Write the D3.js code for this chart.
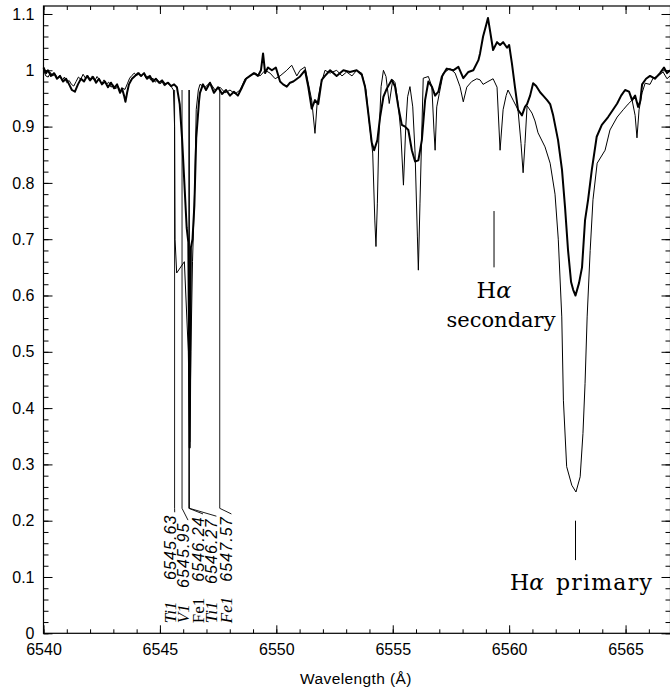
<!DOCTYPE html>
<html>
<head>
<meta charset="utf-8">
<script src="https://cdn.jsdelivr.net/npm/d3@7"></script>
<style>
  body { margin: 0; background: #fff; }
  svg { display: block; }
</style>
</head>
<body>
<svg id="spectrum" width="670" height="690"></svg>
<script>
// thin spectrum (sharp lines)
const thinWave = [
  6540.00, 6540.10, 6540.20, 6540.30, 6540.40, 6540.50, 6540.60, 6540.70, 6540.80, 6540.90,
  6541.00, 6541.10, 6541.20, 6541.30, 6541.40, 6541.50, 6541.60, 6541.70, 6541.80, 6541.90,
  6542.00, 6542.10, 6542.20, 6542.30, 6542.40, 6542.50, 6542.60, 6542.70, 6542.80, 6542.90,
  6543.00, 6543.10, 6543.20, 6543.30, 6543.40, 6543.50, 6543.60, 6543.70, 6543.80, 6543.90,
  6544.00, 6544.10, 6544.20, 6544.30, 6544.40, 6544.50, 6544.60, 6544.70, 6544.80, 6544.90,
  6545.00, 6545.10, 6545.20, 6545.30, 6545.40, 6545.50, 6545.58, 6545.63, 6545.65, 6545.72,
  6546.05, 6546.22, 6546.28, 6546.33, 6546.40, 6546.50, 6546.56, 6546.65, 6546.72,
  6546.94, 6547.15, 6547.37, 6547.58, 6547.80, 6548.01, 6548.23, 6548.44, 6548.66, 6548.87,
  6549.09, 6549.30, 6549.52, 6549.73, 6549.95, 6550.16, 6550.45, 6550.66, 6550.88, 6551.02,
  6551.23, 6551.36, 6551.52, 6551.66, 6551.75, 6551.88, 6552.09, 6552.31, 6552.59, 6552.82,
  6553.02, 6553.25, 6553.45, 6553.67, 6553.85, 6553.98, 6554.14, 6554.23, 6554.28, 6554.34,
  6554.40, 6554.50, 6554.60, 6554.71, 6554.85, 6555.00, 6555.10, 6555.23, 6555.34, 6555.46,
  6555.56, 6555.64, 6555.74, 6555.86, 6555.96, 6556.06, 6556.10, 6556.17, 6556.25, 6556.31,
  6556.53, 6556.68, 6556.77, 6556.82, 6556.89, 6557.00, 6557.17, 6557.46, 6557.68, 6557.89,
  6558.03, 6558.18, 6558.39, 6558.61, 6558.75, 6558.88, 6559.09, 6559.31, 6559.48, 6559.61,
  6559.74, 6559.87, 6559.95, 6560.17, 6560.38, 6560.51, 6560.60, 6560.68, 6560.77, 6560.98,
  6561.11, 6561.24, 6561.54, 6561.76, 6561.97, 6562.11, 6562.26, 6562.33, 6562.47, 6562.69,
  6562.87, 6563.05, 6563.17, 6563.26, 6563.35, 6563.48, 6563.60, 6563.78, 6564.12, 6564.33,
  6564.64, 6564.90, 6565.11, 6565.28, 6565.41, 6565.49, 6565.58, 6565.71, 6565.84, 6566.05,
  6566.18, 6566.40, 6566.61, 6566.78, 6566.91
];
const thinFlux = [
  1.000, 0.990, 0.988, 0.996, 0.990, 0.994, 0.986, 0.991, 0.982, 0.988,
  0.978, 0.982, 0.975, 0.972, 0.980, 0.988, 0.984, 0.993, 0.986, 0.991,
  0.984, 0.990, 0.981, 0.989, 0.983, 0.976, 0.983, 0.975, 0.979, 0.970,
  0.974, 0.967, 0.972, 0.963, 0.968, 0.966, 0.976, 0.986, 0.991, 0.995,
  0.990, 0.996, 0.990, 0.994, 0.986, 0.990, 0.983, 0.986, 0.979, 0.983,
  0.976, 0.979, 0.972, 0.977, 0.975, 0.970, 0.965, 0.900, 0.700, 0.640,
  0.660, 0.500, 0.340, 0.500, 0.660, 0.800, 0.930, 0.965, 0.975,
  0.970, 0.978, 0.965, 0.970, 0.960, 0.965, 0.958, 0.965, 0.985, 0.990,
  0.995, 0.990, 1.000, 0.995, 0.985, 0.990, 1.000, 1.009, 0.990, 1.000,
  1.006, 0.980, 0.947, 0.888, 0.940, 0.970, 1.000, 0.995, 1.000, 0.990,
  0.997, 0.990, 1.000, 0.995, 0.965, 0.912, 0.853, 0.734, 0.687, 0.764,
  0.876, 0.971, 1.000, 0.989, 0.941, 0.983, 0.978, 0.941, 0.894, 0.796,
  0.900, 0.953, 0.971, 0.935, 0.853, 0.704, 0.645, 0.764, 0.894, 0.986,
  0.989, 0.971, 0.894, 0.858, 0.935, 0.959, 0.995, 1.003, 0.995, 0.971,
  0.944, 0.970, 0.980, 0.985, 0.983, 0.975, 0.980, 0.985, 0.970, 0.858,
  0.930, 0.955, 0.965, 0.947, 0.930, 0.870, 0.818, 0.870, 0.937, 0.924,
  0.910, 0.889, 0.864, 0.835, 0.780, 0.700, 0.562, 0.414, 0.296, 0.263,
  0.251, 0.278, 0.355, 0.444, 0.562, 0.680, 0.770, 0.835, 0.858, 0.894,
  0.917, 0.930, 0.940, 0.947, 0.920, 0.880, 0.930, 0.960, 0.977, 0.975,
  0.986, 0.990, 0.997, 0.985, 0.990
];

// thick spectrum (broad lines)
const thickWave = [
  6540.00, 6540.11, 6540.19, 6540.32, 6540.45, 6540.58, 6540.71, 6540.84, 6540.97, 6541.10,
  6541.22, 6541.35, 6541.48, 6541.61, 6541.74, 6541.87, 6542.00, 6542.13, 6542.26, 6542.38,
  6542.51, 6542.64, 6542.77, 6542.90, 6543.03, 6543.16, 6543.29, 6543.37, 6543.46, 6543.52,
  6543.59, 6543.67, 6543.80, 6543.93, 6544.06, 6544.19, 6544.32, 6544.45, 6544.57, 6544.70,
  6544.83, 6544.96, 6545.09, 6545.22, 6545.35, 6545.48, 6545.61, 6545.73, 6545.85, 6545.95,
  6546.05, 6546.15, 6546.22, 6546.28, 6546.33, 6546.40, 6546.48, 6546.56, 6546.68, 6546.72,
  6546.85, 6546.98, 6547.15, 6547.32, 6547.50, 6547.67, 6547.84, 6548.01, 6548.18, 6548.35,
  6548.53, 6548.70, 6548.87, 6549.04, 6549.21, 6549.34, 6549.43, 6549.52, 6549.64, 6549.81,
  6549.98, 6550.16, 6550.29, 6550.45, 6550.59, 6550.73, 6550.89, 6551.02, 6551.23, 6551.37,
  6551.52, 6551.66, 6551.80, 6551.95, 6552.09, 6552.31, 6552.59, 6552.88, 6553.16, 6553.45,
  6553.67, 6553.81, 6553.95, 6554.10, 6554.20, 6554.34, 6554.46, 6554.60, 6554.74, 6554.96,
  6555.10, 6555.24, 6555.39, 6555.53, 6555.67, 6555.82, 6555.96, 6556.10, 6556.25, 6556.39,
  6556.53, 6556.68, 6556.82, 6556.96, 6557.11, 6557.32, 6557.60, 6557.82, 6558.03, 6558.25,
  6558.46, 6558.68, 6558.75, 6558.88, 6559.01, 6559.09, 6559.18, 6559.31, 6559.48, 6559.61,
  6559.74, 6559.91, 6560.00, 6560.12, 6560.25, 6560.38, 6560.55, 6560.68, 6560.77, 6560.90,
  6561.03, 6561.16, 6561.33, 6561.46, 6561.63, 6561.76, 6561.89, 6562.10, 6562.27, 6562.40,
  6562.53, 6562.66, 6562.75, 6562.85, 6563.00, 6563.13, 6563.26, 6563.39, 6563.55, 6563.76,
  6563.98, 6564.25, 6564.46, 6564.64, 6564.81, 6564.98, 6565.15, 6565.28, 6565.41, 6565.54,
  6565.63, 6565.71, 6565.88, 6566.05, 6566.26, 6566.48, 6566.65, 6566.78, 6566.91
];
const thickFlux = [
  1.005, 0.995, 1.000, 0.990, 0.995, 0.985, 0.990, 0.980, 0.985, 0.975,
  0.965, 0.962, 0.975, 0.985, 0.980, 0.990, 0.982, 0.988, 0.978, 0.985,
  0.975, 0.980, 0.970, 0.978, 0.968, 0.975, 0.960, 0.968, 0.955, 0.944,
  0.960, 0.975, 0.985, 0.990, 0.995, 0.990, 0.995, 0.985, 0.990, 0.980,
  0.985, 0.978, 0.982, 0.975, 0.978, 0.972, 0.975, 0.970, 0.940, 0.880,
  0.800, 0.720, 0.695, 0.330, 0.685, 0.700, 0.760, 0.880, 0.945, 0.960,
  0.975, 0.965, 0.978, 0.960, 0.970, 0.958, 0.965, 0.955, 0.962, 0.955,
  0.970, 0.985, 0.990, 0.995, 0.990, 1.000, 1.030, 0.995, 1.005, 1.000,
  1.005, 0.980, 0.975, 0.971, 0.978, 0.980, 0.985, 0.989, 1.000, 0.971,
  0.932, 0.947, 0.940, 0.983, 0.990, 1.000, 0.990, 1.000, 0.997, 1.000,
  0.992, 0.971, 0.924, 0.871, 0.858, 0.876, 0.918, 0.953, 0.967, 0.983,
  0.971, 0.935, 0.903, 0.900, 0.894, 0.858, 0.838, 0.840, 0.876, 0.947,
  0.980, 0.971, 0.955, 0.962, 0.989, 1.003, 1.000, 1.006, 0.986, 0.997,
  1.000, 1.018, 1.030, 1.060, 1.080, 1.093, 1.070, 1.036, 1.050, 1.045,
  1.050, 1.040, 1.045, 1.012, 0.970, 0.930, 0.920, 0.935, 0.940, 0.955,
  0.977, 0.972, 0.961, 0.955, 0.947, 0.940, 0.920, 0.876, 0.823, 0.757,
  0.680, 0.624, 0.610, 0.600, 0.622, 0.650, 0.734, 0.770, 0.823, 0.882,
  0.903, 0.917, 0.930, 0.941, 0.955, 0.965, 0.962, 0.947, 0.955, 0.935,
  0.945, 0.975, 0.985, 0.990, 0.985, 0.995, 1.005, 0.995, 1.000
];

// identified lines
const lineWaves = [6545.63, 6545.95, 6546.24, 6546.27, 6547.57];
const lineIons = ["Ti1", "V1", "Fe1", "Ti1", "Fe1"];
const lineLabels = ["6545.63", "6545.95", "6546.24", "6546.27", "6547.57"];
const lineItalic = [true, true, false, true, true];

const xMajor = [6540, 6545, 6550, 6555, 6560, 6565];
const xMajorLabels = ["6540", "6545", "6550", "6555", "6560", "6565"];
const yMajor = [0, 0.1, 0.2, 0.3, 0.4, 0.5, 0.6, 0.7, 0.8, 0.9, 1, 1.1];
const yMajorLabels = ["0", "0.1", "0.2", "0.3", "0.4", "0.5", "0.6", "0.7", "0.8", "0.9", "1", "1.1"];

const svg = d3.select("#spectrum");
const frame = {left: 43.5, right: 670.5, top: 6, bottom: 633.3};

const x = d3.scaleLinear().domain([6540, 6566.93]).range([frame.left, frame.right]);
const y = d3.scaleLinear().domain([0, 1.1142]).range([frame.bottom, frame.top]);

const xMinor = d3.range(6540, 6567, 1);
const yMinor = d3.range(0, 56).map(i => i * 0.02);

const sans = "Liberation Sans, Arial, sans-serif";

function styleAxis(g) {
  g.select(".domain").remove();
  g.selectAll("line").attr("stroke", "#000").attr("stroke-width", 1);
}

// frame
svg.append("rect")
  .attr("x", frame.left).attr("y", frame.top)
  .attr("width", frame.right - frame.left).attr("height", frame.bottom - frame.top)
  .attr("fill", "none").attr("stroke", "#000").attr("stroke-width", 1.2);

// bottom
svg.append("g").attr("transform", `translate(0,${frame.bottom})`)
  .call(d3.axisBottom(x).tickValues(xMinor).tickSize(-4).tickFormat(""))
  .call(styleAxis);
svg.append("g").attr("transform", `translate(0,${frame.bottom})`)
  .call(d3.axisBottom(x).tickValues(xMajor).tickSize(-8).tickPadding(10)
    .tickFormat((d, i) => xMajorLabels[i]))
  .call(styleAxis)
  .selectAll("text")
  .attr("font-family", sans)
  .attr("font-size", 16).attr("fill", "#000");
// top
svg.append("g").attr("transform", `translate(0,${frame.top})`)
  .call(d3.axisTop(x).tickValues(xMinor).tickSize(-4).tickFormat(""))
  .call(styleAxis);
svg.append("g").attr("transform", `translate(0,${frame.top})`)
  .call(d3.axisTop(x).tickValues(xMajor).tickSize(-8).tickFormat(""))
  .call(styleAxis);
// left
svg.append("g").attr("transform", `translate(${frame.left},0)`)
  .call(d3.axisLeft(y).tickValues(yMinor).tickSize(-5).tickFormat(""))
  .call(styleAxis);
svg.append("g").attr("transform", `translate(${frame.left},0)`)
  .call(d3.axisLeft(y).tickValues(yMajor).tickSize(-9).tickPadding(9)
    .tickFormat((d, i) => yMajorLabels[i]))
  .call(styleAxis)
  .selectAll("text")
  .attr("font-family", sans)
  .attr("font-size", 16).attr("fill", "#000");
// right
svg.append("g").attr("transform", `translate(${frame.right},0)`)
  .call(d3.axisRight(y).tickValues(yMinor).tickSize(-5).tickFormat(""))
  .call(styleAxis);
svg.append("g").attr("transform", `translate(${frame.right},0)`)
  .call(d3.axisRight(y).tickValues(yMajor).tickSize(-9).tickFormat(""))
  .call(styleAxis);

svg.append("text")
  .attr("x", 356).attr("y", 684)
  .attr("text-anchor", "middle")
  .attr("font-family", sans)
  .attr("font-size", 15.5)
  .attr("letter-spacing", 0.4)
  .text("Wavelength (Å)");

// spectra
const line = d3.line().x(d => x(d[0])).y(d => y(d[1]));
const plot = svg.append("g");
plot.append("path")
  .datum(thinWave.map((w, i) => [w, thinFlux[i]]))
  .attr("d", line).attr("fill", "none")
  .attr("stroke", "#000").attr("stroke-width", 1).attr("stroke-linejoin", "round");
plot.append("path")
  .datum(thickWave.map((w, i) => [w, thickFlux[i]]))
  .attr("d", line).attr("fill", "none")
  .attr("stroke", "#000").attr("stroke-width", 2).attr("stroke-linejoin", "round");

// line identifications: label baseline column and top end of each label (flux units)
const labelCols = [175.7, 189, 204, 217.4, 232.4];
const labelTops = [0.211, 0.197, 0.208, 0.204, 0.208];
const ids = svg.append("g");
lineWaves.forEach((w, i) => {
  const lx = x(w);
  ids.append("path")
    .attr("d", `M${lx},${y(0.965)}V${y(0.222)}L${labelCols[i] - 1},${y(labelTops[i] + 0.004)}`)
    .attr("fill", "none").attr("stroke", "#000").attr("stroke-width", 0.9);
  ids.append("text")
    .attr("transform", `translate(${labelCols[i]},${y(labelTops[i])}) rotate(-90)`)
    .attr("text-anchor", "end")
    .attr("font-family", sans)
    .attr("font-style", "italic")
    .attr("font-size", 16)
    .attr("letter-spacing", 1.1)
    .text(lineLabels[i]);
  ids.append("text")
    .attr("transform", `translate(${labelCols[i]},${y(0.018)}) rotate(-90)`)
    .attr("text-anchor", "start")
    .attr("font-family", "Liberation Serif, serif")
    .attr("font-style", lineItalic[i] ? "italic" : "normal")
    .attr("font-size", 17)
    .text(lineIons[i]);
});

// H-alpha marks
const haSecondary = 6559.35, haPrimary = 6562.85;
svg.append("line")
  .attr("x1", x(haSecondary)).attr("x2", x(haSecondary))
  .attr("y1", y(0.75)).attr("y2", y(0.65))
  .attr("stroke", "#000");
svg.append("line")
  .attr("x1", x(haPrimary)).attr("x2", x(haPrimary))
  .attr("y1", y(0.2)).attr("y2", y(0.13))
  .attr("stroke", "#000");

const serif = "DejaVu Serif, serif";
const t1 = svg.append("text").attr("x", 494).attr("y", 298)
  .attr("text-anchor", "middle").attr("font-family", serif).attr("font-size", 22.5);
t1.append("tspan").text("H");
t1.append("tspan").attr("font-style", "italic").text("α");
svg.append("text").attr("x", 501).attr("y", 327)
  .attr("text-anchor", "middle").attr("font-family", serif).attr("font-size", 21)
  .text("secondary");
const t2 = svg.append("text").attr("x", 510).attr("y", 590)
  .attr("text-anchor", "start").attr("font-family", serif).attr("font-size", 22);
t2.append("tspan").text("H");
t2.append("tspan").attr("font-style", "italic").text("α");
t2.append("tspan").attr("dx", 12).attr("letter-spacing", 1.2).text("primary");
</script>
</body>
</html>
